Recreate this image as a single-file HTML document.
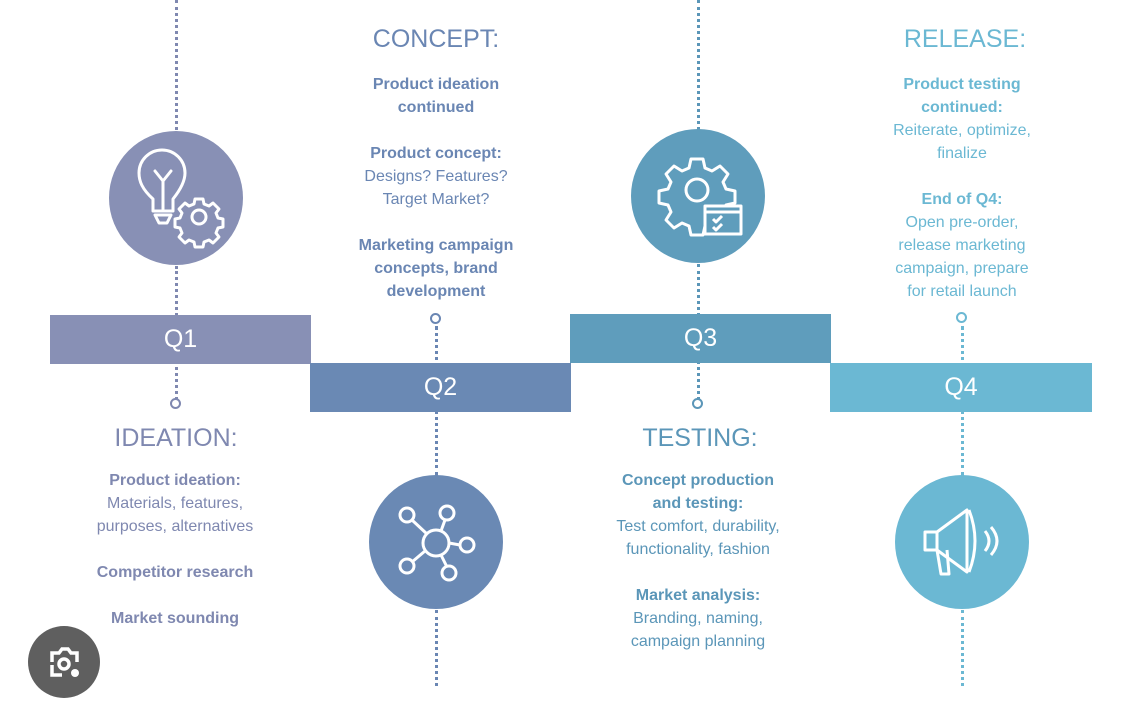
<!DOCTYPE html>
<html><head><meta charset="utf-8"><style>
body{margin:0;width:1128px;height:686px;background:#fff;position:relative;overflow:hidden;font-family:"Liberation Sans",sans-serif}
.a{position:absolute}
.bar{position:absolute;height:49px;color:#fff;font-size:25px;text-align:center;line-height:49px}
.dl{position:absolute;width:0;border-left:3px dotted}
.dot{position:absolute;width:7px;height:7px;border:2.5px solid;border-radius:50%;background:#fff}
.c{position:absolute;width:134px;height:134px;border-radius:50%}
.t{position:absolute;text-align:center;font-size:16px;line-height:23px;width:240px}
.t b{font-weight:bold}
.h{position:absolute;text-align:center;font-size:25px;width:240px}
</style></head><body>
<div class="dl" style="left:175px;top:0;height:130px;border-color:#7f88b0"></div>
<div class="dl" style="left:175px;top:266px;height:134px;border-color:#7f88b0"></div>
<div class="dot" style="left:170px;top:398px;border-color:#7f88b0"></div>
<div class="dl" style="left:435px;top:326px;height:150px;border-color:#6a86b3"></div>
<div class="dl" style="left:435px;top:610px;height:76px;border-color:#6a86b3"></div>
<div class="dot" style="left:430px;top:313px;border-color:#6a86b3"></div>
<div class="dl" style="left:697px;top:0;height:130px;border-color:#5b96b8"></div>
<div class="dl" style="left:697px;top:264px;height:136px;border-color:#5b96b8"></div>
<div class="dot" style="left:692px;top:398px;border-color:#5b96b8"></div>
<div class="dl" style="left:961px;top:326px;height:150px;border-color:#6bb8d3"></div>
<div class="dl" style="left:961px;top:610px;height:76px;border-color:#6bb8d3"></div>
<div class="dot" style="left:956px;top:312px;border-color:#6bb8d3"></div>
<div class="bar" style="left:50px;top:315px;width:261px;background:#8890b5">Q1</div>
<div class="bar" style="left:310px;top:363px;width:261px;background:#6a89b4">Q2</div>
<div class="bar" style="left:570px;top:314px;width:261px;background:#5f9dbc">Q3</div>
<div class="bar" style="left:830px;top:363px;width:262px;background:#6bb8d3">Q4</div>
<div class="c" style="left:109px;top:131px;background:#8890b5">
<svg width="134" height="134" viewBox="0 0 134 134" fill="none" stroke="#fff" stroke-width="3" stroke-linejoin="round" stroke-linecap="round">
<path d="M44 68 C33 58 30 50 30 42 A23 23 0 0 1 76 42 C76 50 72 58 64 68 L64 80 L44 80 Z"/><path d="M54 80 V50 M46 40 L54 50 L62 40"/><path d="M46 84 H62 L58 92 H50 Z"/>
<circle cx="90" cy="86" r="7"/><path d="M86 68 h8 l1 5 l5 2 l4-3 l6 6 l-3 4 l2 5 l5 1 v8 l-5 1 l-2 5 l3 4 l-6 6 l-4-3 l-5 2 l-1 5 h-8 l-1-5 l-5-2 l-4 3 l-6-6 l3-4 l-2-5 l-5-1 v-8 l5-1 l2-5 l-3-4 l6-6 l4 3 l5-2 z"/></svg></div>
<div class="c" style="left:369px;top:475px;background:#6a89b4">
<svg width="134" height="134" viewBox="0 0 134 134" fill="none" stroke="#fff" stroke-width="3"><circle cx="67" cy="68" r="13"/><circle cx="38" cy="40" r="7"/><circle cx="78" cy="38" r="7"/><circle cx="98" cy="70" r="7"/><circle cx="38" cy="91" r="7"/><circle cx="80" cy="98" r="7"/><path d="M43 45 L58 59 M76 45 L72 56 M80 68 L91 70 M56 76 L43 87 M72 80 L78 92"/></svg></div>
<div class="c" style="left:631px;top:129px;background:#5f9dbc">
<svg width="134" height="134" viewBox="0 0 134 134" fill="none" stroke="#fff" stroke-width="3" stroke-linejoin="round"><path d="M60 30 h12 l2 9 l7 3 l8-5 l8 8 l-5 8 l3 7 l9 2 v12 l-9 2 l-3 7 l5 8 l-8 8 l-8-5 l-7 3 l-2 9 h-12 l-2-9 l-7-3 l-8 5 l-8-8 l5-8 l-3-7 l-9-2 v-12 l9-2 l3-7 l-5-8 l8-8 l8 5 l7-3 z"/><circle cx="66" cy="61" r="11"/><rect x="74" y="77" width="36" height="28" fill="#5f9dbc"/><path d="M74 83 H110 M82 90 l3 3 l6-6 M82 98 l3 3 l6-6"/></svg></div>
<div class="c" style="left:895px;top:475px;background:#6bb8d3">
<svg width="134" height="134" viewBox="0 0 134 134" fill="none" stroke="#fff" stroke-width="3" stroke-linejoin="round"><path d="M30 57 h12 l30-22 v62 l-30-22 h-12 z"/><path d="M42 57 v18 M74 35 q12 31 0 62"/><path d="M90 56 q8 10 0 20 M96 52 q12 14 0 28"/><path d="M42 75 l4 24 h8 l-2-24"/></svg></div>
<div class="h" style="left:316px;top:25px;color:#6a86b3">CONCEPT:</div>
<div class="h" style="left:845px;top:25px;color:#6bb8d3">RELEASE:</div>
<div class="h" style="left:56px;top:424px;color:#7f88b0">IDEATION:</div>
<div class="h" style="left:580px;top:424px;color:#5b96b8">TESTING:</div>
<div class="t" style="left:316px;top:73px;color:#6a86b3"><b>Product ideation<br>continued</b><br><br><b>Product concept:</b><br>Designs? Features?<br>Target Market?<br><br><b>Marketing campaign<br>concepts, brand<br>development</b></div>
<div class="t" style="left:842px;top:73px;color:#6bb8d3"><b>Product testing<br>continued:</b><br>Reiterate, optimize,<br>finalize<br><br><b>End of Q4:</b><br>Open pre-order,<br>release marketing<br>campaign, prepare<br>for retail launch</div>
<div class="t" style="left:55px;top:469px;color:#7f88b0"><b>Product ideation:</b><br>Materials, features,<br>purposes, alternatives<br><br><b>Competitor research</b><br><br><b>Market sounding</b></div>
<div class="t" style="left:578px;top:469px;color:#5b96b8"><b>Concept production<br>and testing:</b><br>Test comfort, durability,<br>functionality, fashion<br><br><b>Market analysis:</b><br>Branding, naming,<br>campaign planning</div>
<div class="a" style="left:28px;top:626px;width:72px;height:72px;border-radius:50%;background:#5f5f5f">
<svg width="72" height="72" viewBox="0 0 72 72"><g fill="none" stroke="#fff" stroke-width="3.5"><path d="M24 36 v-9 h7 l3-4 h6 l3 4 h6 v9 M24 39 v10 h10"/><circle cx="36" cy="38" r="5"/></g><circle cx="47" cy="47" r="4" fill="#fff"/></svg></div>
</body></html>
